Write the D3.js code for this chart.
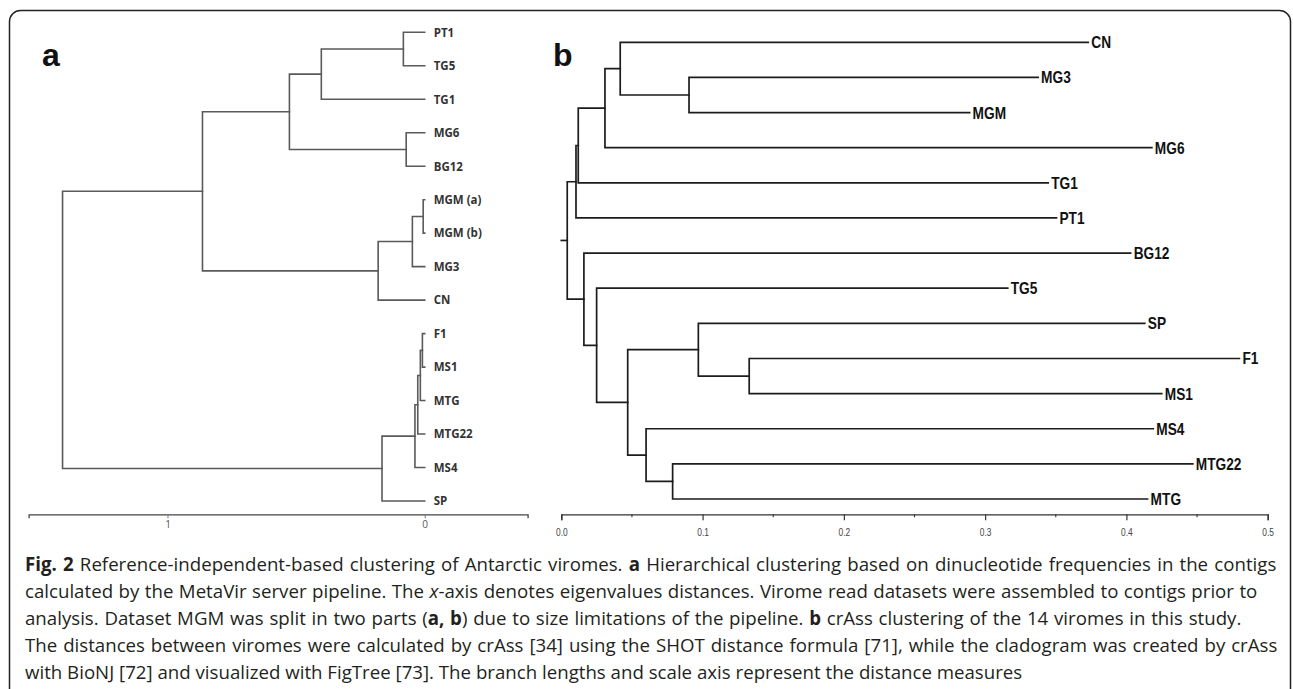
<!DOCTYPE html>
<html>
<head>
<meta charset="utf-8">
<script src="https://cdn.jsdelivr.net/npm/d3@7"></script>
<style>
  body { margin: 0; background: #fff; }
  svg { display: block; }
</style>
</head>
<body>
<svg id="fig" width="1293" height="689"></svg>
<script>

// ---- panel a : MetaVir hierarchical clustering (eigenvalue distance) ----
var leavesA = ["PT1", "TG5", "TG1", "MG6", "BG12", "MGM (a)", "MGM (b)", "MG3", "CN",
               "F1", "MS1", "MTG", "MTG22", "MS4", "SP"];
// [node, child 1, child 2, merge height]
var mergesA = [
  ["a1", "PT1", "TG5", 0.083],
  ["a2", "a1", "TG1", 0.402],
  ["a3", "MG6", "BG12", 0.072],
  ["a4", "a2", "a3", 0.526],
  ["a5", "MGM (a)", "MGM (b)", 0.006],
  ["a6", "a5", "MG3", 0.048],
  ["a7", "a6", "CN", 0.181],
  ["a8", "a4", "a7", 0.864],
  ["a9", "F1", "MS1", 0.009],
  ["a10", "a9", "MTG", 0.017],
  ["a11", "a10", "MTG22", 0.027],
  ["a12", "a11", "MS4", 0.038],
  ["a13", "a12", "SP", 0.166],
  ["a14", "a8", "a13", 1.408]
];
var ticksA = [1, 0];

// ---- panel b : crAss cladogram (SHOT distance) ----
var leavesB = ["CN", "MG3", "MGM", "MG6", "TG1", "PT1", "BG12", "TG5",
               "SP", "F1", "MS1", "MS4", "MTG22", "MTG"];
var leafDistB = [0.373, 0.3375, 0.289, 0.418, 0.3446, 0.3505, 0.403, 0.316,
                 0.413, 0.480, 0.425, 0.419, 0.447, 0.415];
// [node, child 1, child 2, node distance from origin]
var mergesB = [
  ["b1", "MG3", "MGM", 0.0904],
  ["b2", "CN", "b1", 0.0417],
  ["b3", "b2", "MG6", 0.0309],
  ["b4", "b3", "TG1", 0.0120],
  ["b5", "b4", "PT1", 0.0104],
  ["b6", "F1", "MS1", 0.133],
  ["b7", "SP", "b6", 0.097],
  ["b8", "MTG22", "MTG", 0.0788],
  ["b9", "MS4", "b8", 0.060],
  ["b10", "b7", "b9", 0.047],
  ["b11", "TG5", "b10", 0.025],
  ["b12", "BG12", "b11", 0.016],
  ["b13", "b5", "b12", 0.0042]
];
var ticksB = [0, 0.1, 0.2, 0.3, 0.4, 0.5];
var minorTicksB = [0.05, 0.15, 0.25, 0.35, 0.45];

// caption, one entry per printed line: [text, style]
var captionLines = [
  [["Fig. 2", "b"], [" Reference-independent-based clustering of Antarctic viromes. ", ""], ["a", "b"],
   [" Hierarchical clustering based on dinucleotide frequencies in the contigs", ""]],
  [["calculated by the MetaVir server pipeline. The ", ""], ["x", "i"],
   ["-axis denotes eigenvalues distances. Virome read datasets were assembled to contigs prior to", ""]],
  [["analysis. Dataset MGM was split in two parts (", ""], ["a, b", "b"],
   [") due to size limitations of the pipeline. ", ""], ["b", "b"],
   [" crAss clustering of the 14 viromes in this study.", ""]],
  [["The distances between viromes were calculated by crAss [34] using the SHOT distance formula [71], while the cladogram was created by crAss", ""]],
  [["with BioNJ [72] and visualized with FigTree [73]. The branch lengths and scale axis represent the distance measures", ""]]
];
var captionWidths = [1252, 1233, 1217, 1253, 933];

var svg = d3.select("#fig");

// frame
svg.append("rect")
  .attr("x", 9.5).attr("y", 10.5)
  .attr("width", 1281).attr("height", 700)
  .attr("rx", 11)
  .attr("fill", "none")
  .attr("stroke", "#222")
  .attr("stroke-width", 1.5);

// build node table: leaves get their position, inner nodes the mean of children
function buildTree(leaves, leafVals, merges, y) {
  var nodes = {};
  leaves.forEach(function(name, i){
    nodes[name] = { id: name, v: leafVals[i], y: y(name), leaf: true };
  });
  merges.forEach(function(m){
    var c1 = nodes[m[1]], c2 = nodes[m[2]];
    nodes[m[0]] = { id: m[0], v: m[3], y: (c1.y + c2.y) / 2, kids: [c1, c2] };
  });
  return nodes;
}

function drawTree(g, nodes, merges, x) {
  merges.forEach(function(m){
    var p = nodes[m[0]];
    var path = d3.path();
    path.moveTo(x(p.v), p.kids[0].y);
    path.lineTo(x(p.v), p.kids[1].y);
    p.kids.forEach(function(c){
      path.moveTo(x(p.v), c.y);
      path.lineTo(x(c.v), c.y);
    });
    g.append("path").attr("d", path.toString());
  });
}

/******************************************/
//                 Panel a                //
/******************************************/
var xA = d3.scaleLinear().domain([1.54, -0.4]).range([28.6, 527.6]);
var yA = d3.scalePoint().domain(leavesA).range([32.3, 501]);
var nodesA = buildTree(leavesA, leavesA.map(function(){ return 0; }), mergesA, yA);

var gA = svg.append("g")
  .attr("fill", "none")
  .attr("stroke", "#5a5a5a")
  .attr("stroke-width", 1.6)
  .attr("stroke-linecap", "square");
drawTree(gA, nodesA, mergesA, xA);

svg.append("g").selectAll("text")
  .data(leavesA)
  .enter().append("text")
  .attr("x", xA(0) + 9)
  .attr("y", function(d){ return yA(d) + 4.3; })
  .attr("font-family", "'Open Sans', sans-serif")
  .attr("font-weight", 700)
  .attr("font-size", "11.5px")
  .attr("fill", "#333")
  .text(function(d){ return d; });

var axisA = svg.append("g")
  .attr("transform", "translate(0,514.3)")
  .call(d3.axisBottom(xA).tickValues(ticksA).tickSize(4).tickPadding(3).tickFormat(d3.format("d")));
axisA.select(".domain").attr("stroke", "#444").attr("stroke-width", 1.3);
axisA.selectAll(".tick line").attr("stroke", "#777");
axisA.selectAll("text")
  .attr("font-family", "'Open Sans', sans-serif")
  .attr("font-size", "10px")
  .attr("fill", "#555");

svg.append("text")
  .attr("x", 42).attr("y", 66)
  .attr("font-family", "'Liberation Sans', Arial, sans-serif")
  .attr("font-weight", 700)
  .attr("font-size", "32px")
  .attr("fill", "#111")
  .text("a");

/******************************************/
//                 Panel b                //
/******************************************/
var xB = d3.scaleLinear().domain([0, 0.5]).range([561.3, 1267.7]);
var yB = d3.scalePoint().domain(leavesB).range([42.3, 499]);
var nodesB = buildTree(leavesB, leafDistB, mergesB, yB);

var gB = svg.append("g")
  .attr("fill", "none")
  .attr("stroke", "#1c1c1c")
  .attr("stroke-width", 1.7)
  .attr("stroke-linecap", "square");
drawTree(gB, nodesB, mergesB, xB);

// short root stub back to the origin
var rootB = nodesB[mergesB[mergesB.length - 1][0]];
gB.append("line")
  .attr("x1", xB(0)).attr("x2", xB(rootB.v))
  .attr("y1", rootB.y).attr("y2", rootB.y);

svg.append("g").selectAll("text")
  .data(leavesB)
  .enter().append("text")
  .attr("transform", function(d){
    return "translate(" + (xB(nodesB[d].v) + 3) + "," + (yB(d) + 6) + ") scale(0.83,1)";
  })
  .attr("font-family", "'Liberation Sans', Arial, sans-serif")
  .attr("font-weight", 700)
  .attr("font-size", "16.5px")
  .attr("fill", "#111")
  .text(function(d){ return d; });

var axisB = svg.append("g")
  .attr("transform", "translate(0,514.3)")
  .call(d3.axisBottom(xB).tickValues(ticksB).tickSize(6).tickPadding(8).tickFormat(d3.format(".1f")));
axisB.select(".domain").attr("stroke", "#333").attr("stroke-width", 1.3);
axisB.selectAll(".tick line").attr("stroke", "#333").attr("stroke-width", 1.2);
axisB.selectAll("text")
  .attr("transform", "scale(0.8,1)")
  .attr("font-family", "'Liberation Sans', Arial, sans-serif")
  .attr("font-size", "10.5px")
  .attr("fill", "#444");

axisB.selectAll(".minor")
  .data(minorTicksB)
  .enter().append("line")
  .attr("class", "minor")
  .attr("x1", function(d){ return xB(d); })
  .attr("x2", function(d){ return xB(d); })
  .attr("y1", 0).attr("y2", 3)
  .attr("stroke", "#333")
  .attr("stroke-width", 1.1);

svg.append("text")
  .attr("x", 553).attr("y", 66)
  .attr("font-family", "'Liberation Sans', Arial, sans-serif")
  .attr("font-weight", 700)
  .attr("font-size", "32px")
  .attr("fill", "#111")
  .text("b");

/******************************************/
//                 Caption                //
/******************************************/
var capG = svg.append("g")
  .attr("font-family", "'Open Sans', sans-serif")
  .attr("font-size", "19px")
  .attr("fill", "#231f20");

var capTexts = captionLines.map(function(segs, i){
  var t = capG.append("text")
    .attr("x", 0).attr("y", 0)
    .attr("transform", "translate(25," + (571 + i * 27) + ")");
  segs.forEach(function(s){
    t.append("tspan")
      .attr("font-weight", s[1] === "b" ? 700 : null)
      .attr("font-style", s[1] === "i" ? "italic" : null)
      .text(s[0]);
  });
  return t;
});

// one shared horizontal squeeze (mean ratio); justify all but the last line
var natural = capTexts.map(function(t){ return t.node().getComputedTextLength(); });
var squeeze = d3.mean(natural, function(w, i){ return captionWidths[i] / w; });
capTexts.forEach(function(t, i){
  var txt = captionLines[i].map(function(s){ return s[0]; }).join("");
  var spaces = (txt.match(/ /g) || []).length;
  var extra = (captionWidths[i] / squeeze - natural[i]) / spaces;
  t.attr("transform", "translate(25," + (571 + i * 27) + ") scale(" + squeeze + ",1)");
  if (i < captionLines.length - 1) t.attr("word-spacing", extra);
});

</script>
</body>
</html>
